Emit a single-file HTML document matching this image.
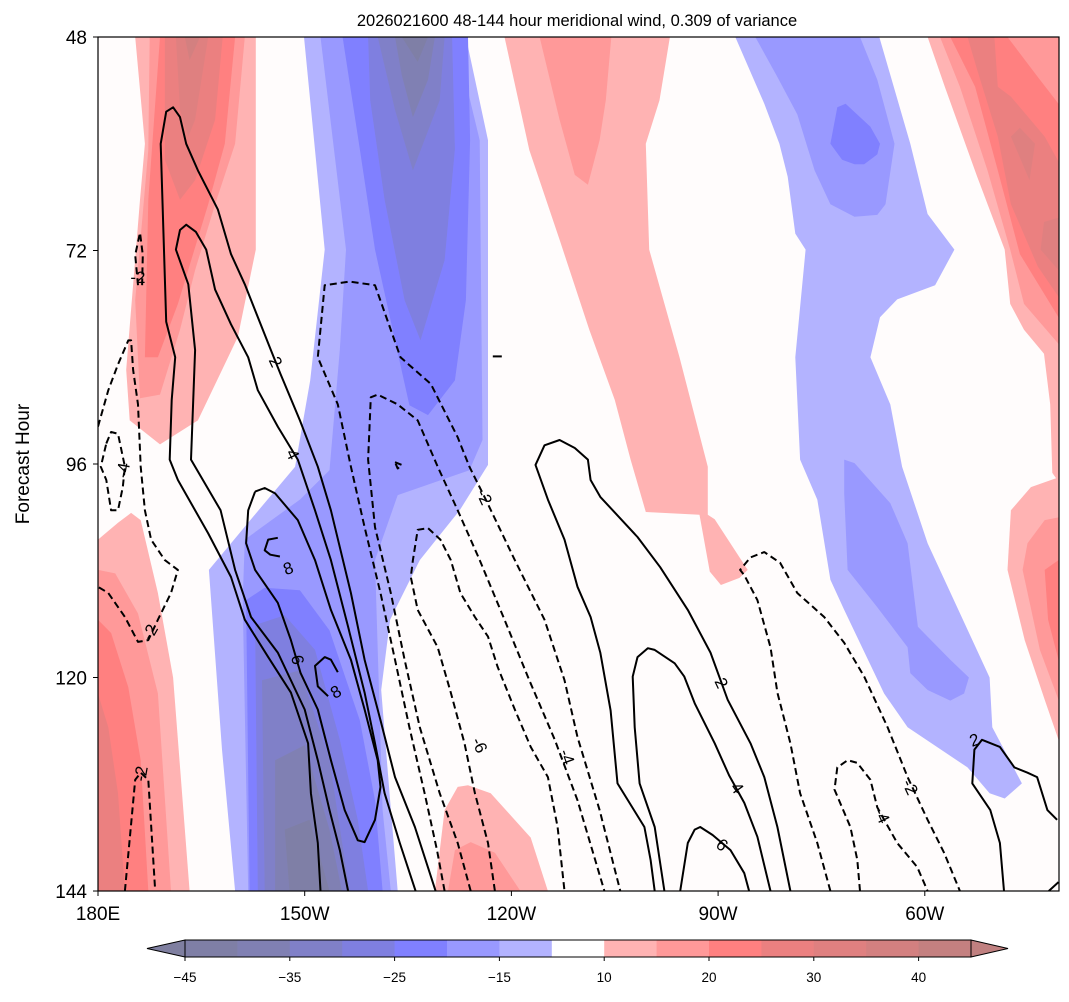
<!DOCTYPE html>
<html><head><meta charset="utf-8"><style>
html,body{margin:0;padding:0;background:#fff;}
svg text{font-family:"Liberation Sans",sans-serif;}
</style></head><body>
<svg id="chart" width="1069" height="997" viewBox="0 0 1069 997" xmlns="http://www.w3.org/2000/svg">
<text x="577" y="26" font-size="16.5" text-anchor="middle">2026021600 48-144 hour meridional wind, 0.309 of variance</text>
<text transform="translate(29,464) rotate(-90)" font-size="19" text-anchor="middle">Forecast Hour</text>
<defs><clipPath id="pc"><rect x="98" y="37" width="961" height="854"/></clipPath></defs>
<rect x="98" y="37" width="961" height="854" fill="#fffcfc"/>
<g id="fills" clip-path="url(#pc)"></g>
<g id="lines" clip-path="url(#pc)"></g>
<g id="labels"></g>
<rect x="98" y="37" width="961" height="854" fill="none" stroke="#000" stroke-width="1.2"/>
<g id="axes"></g>
<g id="cbar"></g>
</svg>
<script>
const xTickVals=[180,210,240,270,300];
const xTickLabels=["180E","150W","120W","90W","60W"];
const yTickVals=[48,72,96,120,144];
const cbLevels=[-45,-40,-35,-30,-25,-20,-15,-10,10,15,20,25,30,35,40,45];
const cbColors=["#7f7fa6","#8080b3","#8080c8","#7f7fe0","#8080ff","#9999ff","#b3b3ff","#ffffff","#ffb3b3","#ff9999","#ff8080","#eb8080","#df8080","#d38080","#c48080"];
const cbTickVals=[-45,-35,-25,-15,10,20,30,40];
const fillLevels=[-15,-20,-25,-30,-35,-40,-45,15,20,25,30,35];
const levelColor={"-15":"#b3b3ff","-20":"#9999ff","-25":"#8080ff","-30":"#7f7fe0","-35":"#8080c8","-40":"#8080b3","-45":"#7f7fa6","15":"#ffb3b3","20":"#ff9999","25":"#ff8080","30":"#eb8080","35":"#df8080","40":"#d38080"};
// filled regions: [level, points(lon,hour)]
const blueA=[
[-15,[[209.9,48],[233.4,48],[236.6,59.6],[236.6,96.1],[232.5,101.2],[226.7,106.8],[222.4,113.5],[221.1,121.4],[222.4,133.8],[223.5,144],[199.9,144],[198,128.1],[196.1,107.9],[202.1,102.3],[208.6,96.3],[210.8,86.6],[212.9,71.9]]],
[-20,[[212.3,48],[231.8,48],[235.4,59.6],[235.8,93.3],[233.9,96.7],[223.5,99.5],[220.2,106.8],[221.3,134.9],[222.5,144],[201.8,144],[201,111.3],[201.3,104.5],[209.3,100],[213.6,96.7],[215.1,83.2],[216,71.9]]],
[-25,[[215.5,48],[233.7,48],[234,59.6],[233.4,77.6],[231.8,86.6],[227.9,90.5],[225.2,89.4],[223.1,82.1],[220.2,71.9],[218,60.6]]],
[-30,[[219.2,48],[231.4,48],[231.8,60.6],[230.3,73.1],[226.8,82.1],[224.5,77.6],[221.6,66.3],[219.5,55.1]]],
[-35,[[220.6,48],[230.3,48],[229.6,55.1],[225.7,63],[223.1,56.2]]],
[-40,[[223.1,48],[228.9,48],[227.9,52.8],[225.7,57],[224.1,52.3]]],
[-45,[[224.1,48],[227.9,48],[226.4,50.8]]],
[-25,[[201.5,111.3],[204.2,109.9],[209.3,110.2],[213.6,114.7],[218,124.8],[220.2,133.8],[221.3,144],[202,144]]],
[-30,[[202.8,114.1],[207.1,113],[211.5,116.9],[215.1,127],[217.7,136],[219.2,144],[203.2,144]]],
[-35,[[203.8,120.3],[209.3,119.2],[213.6,129.3],[216.5,144],[204.2,144]]],
[-40,[[205.7,129.3],[210,127.6],[213.6,137.1],[215.4,144],[205.7,144]]],
[-45,[[207.1,137.1],[210.7,136],[213.6,144],[207.8,144]]]
];
const blueB=[
[-15,[[272.5,48],[293.4,48],[297.9,60],[300.4,67.9],[304.3,71.9],[301.5,75.9],[296,77.5],[293.5,79.5],[292.1,84],[295,89.3],[296.7,96.3],[300.4,104.9],[309.4,120],[309.8,125.6],[314.1,131.9],[311.6,133.6],[309.4,133],[306.2,130.1],[297.5,125.6],[294.1,121.8],[288.3,112.4],[286.3,109],[284.4,100],[281.9,95.5],[281.2,84],[282.7,71.9],[281.2,70.1],[280.1,63.7],[278.9,60],[276.7,55.5]]],
[-20,[[275.4,48],[290.6,48],[293.1,52.8],[295.6,60],[294.3,66.8],[293.1,68],[289.8,68.2],[286.3,66.8],[284,63],[281.5,56.7],[278.6,52.5]]],
[-20,[[288.3,95.5],[289.8,95.9],[295,100.4],[297.5,104.9],[299,114.3],[303.7,118],[306.4,120],[305.7,121.8],[303.7,122.6],[300.4,121.4],[297.9,119.5],[297.5,116.6],[293.1,112.1],[288.8,107.9],[288.3,99.3]]],
[-25,[[287.3,55.9],[288.5,55.5],[292.1,58.1],[293.5,60],[293.1,61.2],[291.2,62.3],[289.8,62.3],[288,61.8],[286.3,60]]]
];
const redLeft=[
[15,[[185.4,48],[202.9,48],[202.9,71.9],[200.3,81.7],[194.5,91.1],[189,93.8],[184.6,91.1],[184.1,85.4],[186.1,66.3],[186.8,60]]],
[20,[[187.5,48],[201.3,48],[199.9,60],[197,66.8],[194.1,74.2],[191.9,80.9],[189,88.2],[186.1,88.6],[185.4,77.6],[187.3,60.7]]],
[25,[[189,48],[199.9,48],[198.4,60],[196,66.8],[191.6,78],[188.7,84],[186.8,84],[187.3,66.3]]],
[30,[[189.7,48],[198.1,48],[197,57.3],[194.1,64.1],[191.9,66.3],[189.7,61.8]]],
[35,[[191.3,48],[196,48],[194.1,57.3],[193.1,59.2],[191.9,56.2]]],
[40,[[192.6,48],[194.8,48],[193.3,50.6]]],
[15,[[180,104.5],[182.9,102.6],[184.8,101.5],[186.2,102.3],[188.7,110.5],[190.9,120],[193.3,144],[180,144]]],
[20,[[180,107.9],[182.5,108.3],[185.8,112.8],[188.7,121.8],[190.6,144],[180,144]]],
[25,[[180,113.5],[181.9,115],[184.4,121.1],[186.2,129.3],[187.3,144],[180,144]]],
[30,[[180,121.8],[181.5,125.6],[182.9,133],[183.9,144],[180,144]]]
];
const redMid=[
[15,[[239,48],[263,48],[261.5,55.1],[259.5,60],[260,71.9],[264.4,84],[268.5,96.3],[268.5,101.7],[269.5,102.2],[274.3,107.9],[273.1,108.8],[270.4,109.6],[268.8,108.1],[267.3,101.7],[259.5,101.4],[257.3,95.5],[255,88.8],[251.3,80.9],[247,70.8],[242.6,60.7]]],
[20,[[244.1,48],[254.5,48],[253.7,55.1],[252.8,59.6],[251.1,64.6],[249.2,63.5],[247,57.3]]],
[15,[[228.9,144],[230.3,134.9],[232.2,132.3],[233.7,132.1],[237,133],[242.8,138],[245.3,144]]],
[20,[[230.8,144],[231.8,139.4],[234.1,138.5],[237.6,139.7],[241.3,144]]]
];
const redRight=[
[15,[[300.4,48],[319.4,48],[319.4,98],[318.5,97],[318.2,89.3],[317.3,83.6],[314.4,80.9],[312.4,78],[311.6,71.9],[307.6,63.7],[302.9,53.6]]],
[20,[[302.2,48],[319.4,48],[319.4,82.5],[314.4,78],[312.4,71.9],[309.1,63],[305.1,53.6]]],
[25,[[303.7,48],[312,48],[316.4,52.5],[319.4,55.5],[319.4,79.5],[313.8,72.4],[310.6,63],[307.3,53.6]]],
[30,[[306.2,48],[310.1,48],[310.6,53.6],[312.5,54.7],[317.4,59.2],[319.4,62],[319.4,77.2],[316.4,73.8],[312.5,66.8],[310.6,59.2],[307.6,51.7]]],
[35,[[312.5,59.2],[313.8,58.2],[316,60],[315.2,64.1]]],
[35,[[317.3,68.8],[319.4,68.3],[319.4,74.2],[316.8,71.9]]],
[15,[[312,107.9],[312.5,101.2],[315.4,98.6],[319.4,97.5],[319.4,127],[317.4,122.5],[314.5,115.8]]],
[20,[[314.2,107.9],[314.9,104.9],[317.4,102.3],[319.4,102],[319.4,122.5],[316.7,116.9]]],
[25,[[317.4,107.9],[319.4,106.8],[319.4,118],[317.9,113.5]]]
];
// contour lines: [value, points]
const contourLines=[
[2,[[212.3,144],[211.9,138.6],[210.9,133],[210.5,127.4],[208,121.7],[204.7,117.7],[201.3,113.5],[199.3,108.7],[196,103.8],[191.6,97.8],[190.4,95.5],[190.7,88.8],[191.2,84],[189.9,80],[189.1,60],[189.9,56.4],[190.9,55.9],[191.9,57],[192.8,60],[194.5,63],[197.4,67.4],[199.3,72.4],[201.3,75.8],[205.1,83.2],[206.5,85.9],[209.3,91.1],[211.9,96.3],[213.8,101.2],[216.7,110.5],[218.7,118],[221,124.8],[223.1,131.2],[226,136.8],[229,144]]],
[4,[[216.3,144],[215.1,139.4],[213.6,134.9],[211.9,129.3],[210,123.6],[206.1,117.2],[202.2,113.2],[199.9,107.9],[197.8,101.2],[193.5,95.5],[194.1,83.2],[193.1,75.8],[191.3,71.9],[191.9,69.7],[192.8,69.1],[194.2,69.9],[195.7,71.9],[197,76.4],[199.3,80.3],[201.8,84],[203.2,87.7],[206.1,91.8],[209,95.5],[211.5,101.2],[213.8,106.8],[216.3,114.3],[218.7,121.7],[220.2,127.4],[221.6,133],[223.8,138.6],[226.1,144]]],
[6,[[202.8,99.1],[204.2,98.7],[205.7,99.3],[209,102.3],[211.5,106.8],[213.8,112.4],[216.7,118],[218.7,123.6],[220.6,129.3],[221,132.3],[220.2,136],[218.7,138.5],[217.7,138.3],[215.8,134.9],[213.8,129.3],[211.9,123.6],[209.4,119.5],[208,115.8],[206.1,111.6],[202.8,107.9],[201.5,104.9],[201.8,101.2],[202.8,99.1]]],
[8,[[206.1,104.3],[204.7,104.5],[204.2,105.7],[205,106.2],[206.4,106.4]]],
[8,[[213.4,122.1],[211.9,121],[211.5,118.7],[212.9,117.7],[213.8,118],[214.8,119.4]]],
[-2,[[230.3,144],[229.2,139.4],[227.4,133],[225.2,125.6],[223.1,118],[221,110.5],[218.7,103.1],[216.7,96.3],[214.8,89.3],[211.9,84],[212.9,75.9],[216.5,75.5],[220.2,75.9],[223.9,84],[228.3,87],[232.2,93],[233.9,96.3],[236.1,99.7],[240.5,106.8],[244.8,113.5],[247.7,120.3],[249.6,126.7],[252.8,134.9],[255.8,144]]],
[-4,[[234.1,144],[232.2,138.6],[229.6,133],[226.7,125.6],[224.5,118],[222.5,110.5],[220.2,103.1],[219.2,95.5],[219.6,88.5],[220.6,88.2],[223.5,89.3],[226.4,91.1],[229.3,96.3],[232.2,101.2],[235.4,106.8],[239,113.5],[242.6,120.3],[246.3,127],[249.6,133.8],[253.5,144]]],
[-6,[[237.6,144],[236.6,138.6],[234.7,133],[233.2,127.4],[231.2,121.7],[229.3,116.6],[226.4,112.4],[225.4,108.7],[225.7,106.8],[226.4,103.4],[227.9,103.2],[229.7,104.5],[231.2,106.8],[232.6,110.5],[234.7,113.2],[236.6,115.4],[238,118.8],[240.5,123.6],[242.8,127.8],[245.3,131.2],[246.7,136.8],[247.7,144]]],
[-2,[[180,91.8],[181.5,87.7],[182.9,84.8],[184.4,82.1],[184.8,82.1],[185.1,85.4],[185.8,89.3],[186.2,96.3],[186.8,101.2],[187.7,104.5],[189.7,106.8],[191.6,107.9],[190.6,110.5],[188.7,113.5],[187.3,115.8],[185.8,116],[183.9,113.2],[181.5,110.5],[180,109.8]]],
[-4,[[181.2,93.7],[181.9,92.4],[182.9,92.6],[183.9,96.3],[183.6,98.6],[182.9,101.2],[181.9,101.2],[181.2,97.8],[180.4,96.3],[181.2,93.7]]],
[-2,[[185.8,75.9],[185.4,72.5],[186.1,70],[186.5,72.5],[186.4,75.9]]],
[-2,[[183.9,144],[185.4,131.5],[186.2,130.7],[187.3,131.5],[188.3,144]]],
[2,[[237.3,83.9],[238.6,83.9]]],
[-2,[[223.1,95.8],[224.1,96.1],[223.5,96.5],[223.1,95.8]]],
[2,[[260.8,144],[260.2,140.5],[259.3,136.8],[255.4,131.9],[254.4,123.7],[252.9,117.2],[251.5,113.2],[249.6,109.8],[247.7,104.5],[245.3,100],[243.5,96.1],[244.8,93.9],[247,93.3],[249.2,94.2],[251.1,95.5],[251.5,97.8],[252.9,99.7],[258.3,104.2],[261.6,107.6],[265.6,112.4],[268.9,117.2],[271.4,122.5],[274.7,127.4],[276.7,131.2],[278.6,136.8],[280.5,144]]],
[4,[[262.2,144],[260.8,136.8],[258.6,131.9],[257.9,125.6],[257.6,119.9],[258.3,117.7],[259.8,116.7],[260.8,116.9],[263.7,118.4],[265.1,119.9],[266.6,122.9],[269.5,127.4],[271.6,131],[273.8,134.1],[275.7,137.9],[277.6,144]]],
[6,[[264.5,144],[265.6,138.6],[266.6,137.1],[267.4,136.8],[269.2,137.7],[271.8,139.4],[273.8,142],[274.5,144]]],
[-2,[[286.3,144],[284.4,138.6],[281.9,133],[280.5,127.4],[278.6,121.7],[277.6,116.6],[275.7,111.3],[273.8,108.5],[273.2,107.9],[274.7,106.5],[276.7,105.9],[279,107.1],[281.5,110.5],[285.4,113.2],[288.3,116.1],[291.2,119.9],[294.6,125.6],[297.5,131.2],[300.4,136],[302.8,139.7],[305.1,144]]],
[-4,[[290.6,144],[290.2,140.5],[289.2,136.8],[286.9,132.6],[287.3,130.1],[288.8,129.3],[290.2,129.6],[292.1,131.5],[293.1,134.6],[296,138.6],[298.9,141.3],[300.4,144]]],
[2,[[311.5,144],[310.9,138.6],[309.5,134.9],[306.9,131.9],[307.2,128.1],[308.3,127],[310.9,127.8],[313,130.1],[314.9,130.7],[316.3,131.2],[317.8,134.9],[319.2,136]]],
[2,[[318,144],[319.4,143]]]
];
// contour labels: [text, lon, hour, angle]
const contourLabels=[
["2",205.8,84.5,65],["4",208.3,94.9,65],["-2",185.8,75,0],["-4",183.6,96.7,-80],["-2",187.5,114.9,-60],
["-2",186.2,130.8,-80],["8",207.6,107.7,-20],["6",209,118,80],["8",214.5,121.6,-30],["-2",236.1,99.7,65],
["-6",235.4,127.6,65],["-4",248.1,128.9,70],["2",270.5,120.6,65],["4",272.8,132.4,55],["6",270.6,138.8,40],
["-2",297.9,132.3,65],["-4",293.8,135.5,65],["2",307.2,127,-20]
];

const X=lon=>98+(lon-180)*6.89;
const Y=h=>37+(h-48)*8.896;
const NS="http://www.w3.org/2000/svg";
function mk(tag,attrs){const e=document.createElementNS(NS,tag);for(const k in attrs)e.setAttribute(k,attrs[k]);return e;}
const ptsStr=p=>p.map(q=>X(q[0]).toFixed(1)+","+Y(q[1]).toFixed(1)).join(" ");

const gF=document.getElementById("fills");
[["blue-west",blueA],["blue-east",blueB],["red-west",redLeft],["red-central",redMid],["red-east",redRight]].forEach(([nm,arr])=>{
  arr.forEach(([lv,p])=>{
    const e=mk("polygon",{points:ptsStr(p),fill:levelColor[String(lv)]});
    
    
    gF.appendChild(e);
  });
});
const gL=document.getElementById("lines");
contourLines.forEach(([v,p])=>{
  const e=mk("polyline",{points:ptsStr(p),fill:"none",stroke:"#000","stroke-width":2,"stroke-linejoin":"round"});
  if(v<0)e.setAttribute("stroke-dasharray","7,4");
  
  
  gL.appendChild(e);
});
const gT=document.getElementById("labels");
contourLabels.forEach(([t,lon,h,a])=>{
  const x=X(lon),y=Y(h);
  const e=mk("text",{x:x,y:y+6,"font-size":17,"text-anchor":"middle",transform:`rotate(${a},${x},${y})`});
  e.textContent=t;
  
  
  gT.appendChild(e);
});
const gA=document.getElementById("axes");
xTickVals.forEach((v,i)=>{
  const x=X(v);
  const t=mk("line",{x1:x,x2:x,y1:891,y2:896,stroke:"#000","stroke-width":1});
  
  
  gA.appendChild(t);
  const l=mk("text",{x:x,y:920,"font-size":19,"text-anchor":"middle"});
  l.textContent=xTickLabels[i];
  
  
  gA.appendChild(l);
});
yTickVals.forEach(v=>{
  const y=Y(v);
  const t=mk("line",{x1:93,x2:98,y1:y,y2:y,stroke:"#000","stroke-width":1});
  
  
  gA.appendChild(t);
  const l=mk("text",{x:87,y:y+7,"font-size":19,"text-anchor":"end"});
  l.textContent=String(v);
  
  
  gA.appendChild(l);
});
// colorbar
const gC=document.getElementById("cbar");
const cbX0=185,cbX1=971,cbY=940,cbH=17;
const nSeg=cbColors.length;
const segW=(cbX1-cbX0)/nSeg;
const CX=v=>{const i=cbLevels.indexOf(v);return cbX0+i*segW;};
const lt=mk("polygon",{points:`${cbX0},${cbY} ${cbX0},${cbY+cbH} 147,${cbY+cbH/2}`,fill:"#7f7fa0",stroke:"#000","stroke-width":1});


gC.appendChild(lt);
const rt=mk("polygon",{points:`${cbX1},${cbY} ${cbX1},${cbY+cbH} 1008,${cbY+cbH/2}`,fill:"#c08080",stroke:"#000","stroke-width":1});


gC.appendChild(rt);
cbColors.forEach((c,i)=>{
  const r=mk("rect",{x:CX(cbLevels[i]),y:cbY,width:segW+0.5,height:cbH,fill:c});
  
  
  gC.appendChild(r);
});
const fr=mk("rect",{x:cbX0,y:cbY,width:cbX1-cbX0,height:cbH,fill:"none",stroke:"#000","stroke-width":1});


gC.appendChild(fr);
cbTickVals.forEach(v=>{
  const x=CX(v);
  const t=mk("line",{x1:x,x2:x,y1:cbY+cbH,y2:cbY+cbH+4,stroke:"#000","stroke-width":1});
  
  
  gC.appendChild(t);
  const l=mk("text",{x:x,y:982,"font-size":13.5,"text-anchor":"middle"});
  l.textContent=(v<0?"\u2212"+Math.abs(v):String(v));
  
  
  gC.appendChild(l);
});
</script>
</body></html>
